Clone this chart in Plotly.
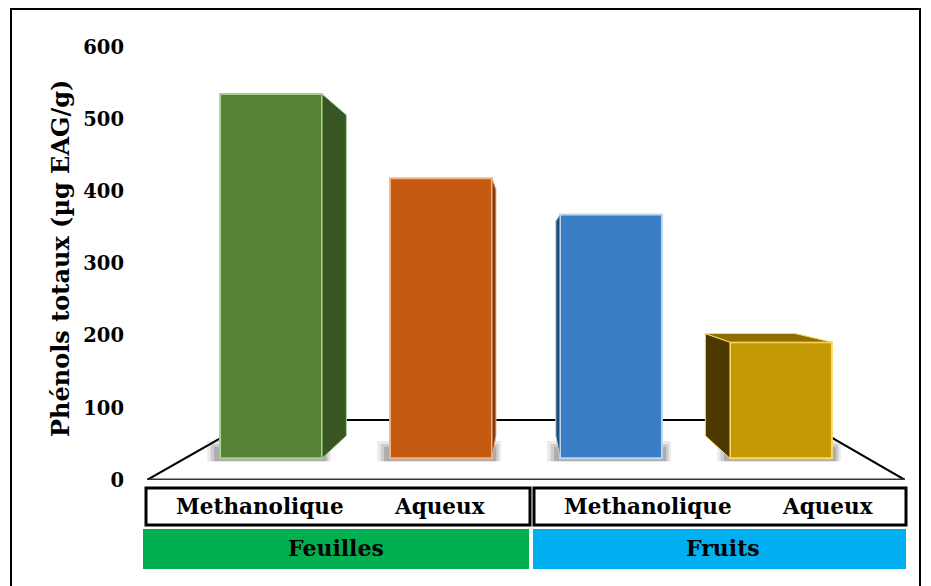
import plotly.graph_objects as go

# ---- data ----
groups = ["Feuilles", "Fruits"]
extracts = ["Methanolique", "Aqueux", "Methanolique", "Aqueux"]
values = [535, 418, 368, 191]          # Phénols totaux (µg EAG/g)
y_ticks = [0, 100, 200, 300, 400, 500, 600]

# ---- style ----
front_colors = ["#558235", "#C55A11", "#3A7EC6", "#C49A06"]
edge_colors = ["#A9D18E", "#F4B183", "#BDD7EE", "#FFD966"]
side_colors = ["#375623", "#843C0C", "#1F4E79", "#4D3800"]
top_colors = ["#6E9E4C", "#E07A3A", "#5B9BD5", "#8F6E00"]
FONT = "DejaVu Serif"
FLOOR = 30          # front faces stand a little above axis 0 (3D floor)
HW = 0.3            # half bar width in category units
VPX, VPY, DEPTH = 1.494, 291, 0.12   # perspective vanishing point & depth

L, R, T, B = 147, 905, 47, 480
W, H = 931, 586
def px_x(p): return (p - L) / (R - L)
def px_y(p): return (B - p) / (B - T)

def back(pt):
    x, y = pt
    return (x + DEPTH * (VPX - x), y + DEPTH * (VPY - y))

fig = go.Figure()

xs = list(range(len(values)))
fig.add_trace(go.Bar(
    x=xs, y=[v - FLOOR for v in values], base=[FLOOR] * len(values),
    width=2 * HW,
    marker=dict(color=front_colors, line=dict(color=edge_colors, width=2)),
    showlegend=False, hoverinfo="skip"))

# side and top faces (perspective)
for i, v in enumerate(values):
    faces = []
    if i + HW < VPX:
        fl, tl = (i + HW, FLOOR), (i + HW, v)
        faces.append(([fl, back(fl), back(tl), tl], side_colors[i]))
    if i - HW > VPX:
        fl, tl = (i - HW, FLOOR), (i - HW, v)
        faces.append(([fl, back(fl), back(tl), tl], side_colors[i]))
    if v < VPY:
        a, b = (i - HW, v), (i + HW, v)
        faces.append(([a, b, back(b), back(a)], top_colors[i]))
    for pts, col in faces:
        fx = [p[0] for p in pts] + [pts[0][0]]
        fy = [p[1] for p in pts] + [pts[0][1]]
        fig.add_trace(go.Scatter(
            x=fx, y=fy, mode="lines", fill="toself", fillcolor=col,
            line=dict(color=edge_colors[i], width=1),
            showlegend=False, hoverinfo="skip", cliponaxis=False))

shapes = []
# floor
fl_front_l, fl_front_r = (-0.73, 0), (3.73, 0)
fl_back_l, fl_back_r = (-0.11, 83), (3.12, 83)
shapes.append(dict(
    type="path", xref="x", yref="y", layer="below",
    path=f"M {fl_front_l[0]},{fl_front_l[1]} L {fl_back_l[0]},{fl_back_l[1]} "
         f"L {fl_back_r[0]},{fl_back_r[1]} L {fl_front_r[0]},{fl_front_r[1]} Z",
    fillcolor="white", line=dict(color="black", width=2)))
shapes.append(dict(type="line", xref="x", yref="y", layer="below",
                   x0=fl_front_l[0], y0=0, x1=fl_front_r[0], y1=0,
                   line=dict(color="#333333", width=3)))
# soft shadows
for i in xs:
    for pad, top, op in [(0.075, 24, 0.12), (0.055, 20, 0.18), (0.035, 16, 0.25)]:
        shapes.append(dict(type="rect", xref="x", yref="y", layer="below",
                           x0=i - HW - pad, x1=i + HW + pad * 0.7,
                           y0=FLOOR - 4, y1=FLOOR + top,
                           fillcolor=f"rgba(80,80,80,{op})", line=dict(width=0)))

# category boxes
shapes.append(dict(type="rect", xref="paper", yref="paper",
                   x0=px_x(146), x1=px_x(530), y0=px_y(488), y1=px_y(525),
                   line=dict(color="black", width=3), fillcolor="white"))
shapes.append(dict(type="rect", xref="paper", yref="paper",
                   x0=px_x(534), x1=px_x(906), y0=px_y(488), y1=px_y(525),
                   line=dict(color="black", width=3), fillcolor="white"))
shapes.append(dict(type="rect", xref="paper", yref="paper",
                   x0=px_x(143), x1=px_x(529), y0=px_y(529), y1=px_y(569),
                   line=dict(width=0), fillcolor="#00B050"))
shapes.append(dict(type="rect", xref="paper", yref="paper",
                   x0=px_x(533), x1=px_x(906), y0=px_y(529), y1=px_y(569),
                   line=dict(width=0), fillcolor="#00B0F0"))
# outer frame
shapes.append(dict(type="rect", xref="paper", yref="paper",
                   x0=px_x(11), x1=px_x(920), y0=px_y(9), y1=px_y(600),
                   line=dict(color="black", width=2)))

annotations = []
lab_px = [260, 439, 648, 827]
for name, p in zip(extracts, lab_px):
    annotations.append(dict(text=f"<b>{name}</b>", xref="paper", yref="paper",
                            x=px_x(p), y=px_y(506), showarrow=False,
                            xanchor="center", yanchor="middle",
                            font=dict(family=FONT, size=21.5, color="black")))
for name, p in zip(groups, [336, 723]):
    annotations.append(dict(text=f"<b>{name}</b>", xref="paper", yref="paper",
                            x=px_x(p), y=px_y(548), showarrow=False,
                            xanchor="center", yanchor="middle",
                            font=dict(family=FONT, size=22, color="black")))
annotations.append(dict(text="<b>Phénols totaux (µg EAG/g)</b>", xref="paper", yref="paper",
                        x=px_x(60), y=px_y(259), showarrow=False, textangle=-90,
                        xanchor="center", yanchor="middle",
                        font=dict(family=FONT, size=24, color="black")))

fig.update_layout(
    width=W, height=H,
    margin=dict(l=L, r=W - R, t=T, b=H - B),
    paper_bgcolor="white", plot_bgcolor="rgba(0,0,0,0)",
    shapes=shapes, annotations=annotations,
    xaxis=dict(range=[-0.73, 3.73], visible=False, fixedrange=True),
    yaxis=dict(range=[0, 600], tickvals=y_ticks,
               ticktext=[f"<b>{t}</b>" for t in y_ticks],
               tickfont=dict(family=FONT, size=19.5, color="black"),
               showgrid=False, zeroline=False, showline=False,
               ticks="", ticklabelstandoff=22),
    showlegend=False,
)

fig.write_html("out.html")
